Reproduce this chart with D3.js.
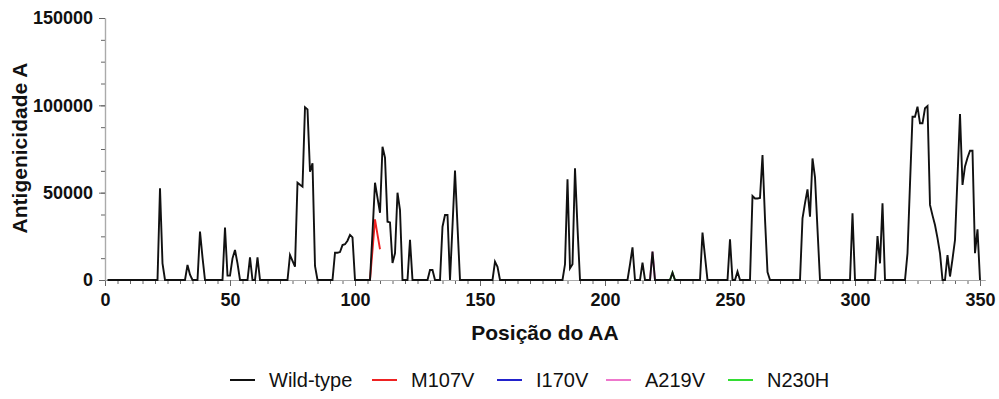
<!DOCTYPE html>
<html>
<head>
<meta charset="utf-8">
<script src="https://cdn.jsdelivr.net/npm/d3@7"></script>
<style>
body{margin:0;background:#fff;}
text{font-family:"Liberation Sans",Arial,sans-serif;}
</style>
</head>
<body>
<svg id="chart" width="999" height="399"></svg>
<script>
// antigenicity per residue, positions 1..350
var wildType = [
  0,0,0,0,0,0,0,0,0,0,
  0,0,0,0,0,0,0,0,0,0,
  0,52500,9500,0,0,0,0,0,0,0,
  0,0,8600,3000,0,0,0,27700,13000,0,
  0,0,0,0,0,0,0,30000,2500,2500,
  12400,17200,9500,0,0,0,0,13000,0,0,
  13000,0,0,0,0,0,0,0,0,0,
  0,0,0,14300,11000,7600,55700,54500,53400,98900,
  97700,62000,66800,8000,0,0,0,0,0,0,
  0,15600,15600,16000,20000,20500,22500,25800,24400,0,
  0,0,0,0,0,0,27000,55700,47000,38500,
  76300,70000,33400,33000,9700,15300,50000,40000,0,0,
  0,23000,0,0,0,0,0,0,0,5700,
  5700,0,0,0,30500,37200,37200,0,31000,62600,
  31000,0,0,0,0,0,0,0,0,0,
  0,0,0,0,0,10500,7600,0,0,0,
  0,0,0,0,0,0,0,0,0,0,
  0,0,0,0,0,0,0,0,0,0,
  0,0,0,9000,57600,6700,9000,64000,30000,0,
  0,0,0,0,0,0,0,0,0,0,
  0,0,0,0,0,0,0,0,0,9000,
  18700,0,0,0,9900,0,0,0,16200,0,
  0,0,0,0,0,0,4200,0,0,0,
  0,0,0,0,0,0,0,0,27100,13500,
  0,0,0,0,0,0,0,0,0,23300,
  0,0,4800,0,0,0,0,0,48100,46700,
  46700,47000,71600,35000,4500,0,0,0,0,0,
  0,0,0,0,0,0,0,0,35300,44000,
  51900,36300,69600,58800,29000,0,0,0,0,0,
  0,0,0,0,0,0,0,0,38200,0,
  0,0,0,0,0,0,0,0,25200,9500,
  43900,0,0,0,0,0,0,0,0,0,
  15300,55000,93500,93500,99200,89700,89700,98300,99600,43000,
  37000,31500,24000,15300,0,0,14300,2000,12000,22900,
  59000,95000,54400,65000,70000,74000,74000,15300,29000,0
];

// mutants: only the window around each mutation differs
var m107vPos = [103,104,105,106,107,108,109,110];
var m107vVal = [0,0,0,0,17000,34700,26000,17600];
var i170vPos = [166,167,168,169,170,171,172,173,174];
var i170vVal = [0,0,0,0,0,0,0,0,0];
var a219vPos = [216,217,218,219,220,221,222];
var a219vVal = [0,0,0,16200,0,0,0];
var n230hPos = [225,226,227,228,229,230,231,232];
var n230hVal = [0,0,4200,0,0,0,0,0];

var seriesNames = ["Wild-type","M107V","I170V","A219V","N230H"];
var xTicks = [0,50,100,150,200,250,300,350];
var yTicks = [0,50000,100000,150000];

var colors = ["#111111","#ee2222","#2222cc","#ee77cc","#33dd33"];

(function(){
    var svg = d3.select("#chart");
    var mLeft = 105, mRight = 985, mTop = 18, mBottom = 280;

    var x = d3.scaleLinear().domain([0,352]).range([mLeft,mRight]);
    var y = d3.scaleLinear().domain([0,150000]).range([mBottom,mTop]);

    function toPoints(pos, val){
	return pos.map(function(p,i){ return {pos:p, val:val[i]}; });
    }

    var series = [
	{name:seriesNames[0], color:colors[0], points: wildType.map(function(v,i){ return {pos:i+1, val:v}; })},
	{name:seriesNames[1], color:colors[1], points: toPoints(m107vPos,m107vVal)},
	{name:seriesNames[2], color:colors[2], points: toPoints(i170vPos,i170vVal)},
	{name:seriesNames[3], color:colors[3], points: toPoints(a219vPos,a219vVal)},
	{name:seriesNames[4], color:colors[4], points: toPoints(n230hPos,n230hVal)}
    ];

    // axes (minor ticks first)
    svg.append("g")
	.attr("transform","translate(0,"+mBottom+")")
	.call(d3.axisBottom(x).tickValues(d3.range(0,351,5)).tickSize(4).tickSizeOuter(0).tickFormat(""));
    svg.append("g")
	.attr("transform","translate(0,"+mBottom+")")
	.call(d3.axisBottom(x).tickValues(xTicks).tickSize(6).tickSizeOuter(0).tickPadding(7));
    svg.append("g")
	.attr("transform","translate("+mLeft+",0)")
	.call(d3.axisLeft(y).tickValues(d3.range(0,150001,12500)).tickSize(4).tickSizeOuter(0).tickFormat(""));
    svg.append("g")
	.attr("transform","translate("+mLeft+",0)")
	.call(d3.axisLeft(y).tickValues(yTicks).tickSize(6).tickSizeOuter(0).tickPadding(6).tickFormat(d3.format("d")));

    svg.selectAll(".domain").attr("stroke","#aaaaaa").attr("stroke-width",1.2);
    svg.selectAll(".tick line").attr("stroke","#666666");
    svg.selectAll(".tick text")
	.attr("fill","#111")
	.style("font-size","18px")
	.style("font-weight","bold");

    // lines, mutants underneath the wild-type
    var line = d3.line()
	.x(function(d){ return x(d.pos); })
	.y(function(d){ return y(d.val); });

    svg.selectAll(".series")
	.data(series.slice(1).concat([series[0]]))
	.enter()
	.append("path")
	.attr("class","series")
	.attr("fill","none")
	.attr("stroke",function(d){ return d.color; })
	.attr("stroke-width",1.9)
	.attr("d",function(d){ return line(d.points); });

    // titles
    svg.append("text")
	.attr("x",(mLeft+mRight)/2)
	.attr("y",340)
	.attr("text-anchor","middle")
	.style("font-size","21px")
	.style("font-weight","bold")
	.attr("fill","#111")
	.text("Posição do AA");

    svg.append("text")
	.attr("transform","translate(27,148) rotate(-90)")
	.attr("text-anchor","middle")
	.style("font-size","21px")
	.style("font-weight","bold")
	.attr("fill","#111")
	.text("Antigenicidade A");

    // legend
    var legendX = [230,372,497,606,728];
    var legend = svg.selectAll(".legend")
	.data(series)
	.enter()
	.append("g")
	.attr("class","legend")
	.attr("transform",function(d,i){ return "translate("+legendX[i]+",380)"; });
    legend.append("line")
	.attr("x1",0).attr("x2",25)
	.attr("stroke",function(d){ return d.color; })
	.attr("stroke-width",2);
    legend.append("text")
	.attr("x",39)
	.attr("y",7)
	.style("font-size","20px")
	.attr("fill","#111")
	.text(function(d){ return d.name; });
})();
</script>
</body>
</html>
